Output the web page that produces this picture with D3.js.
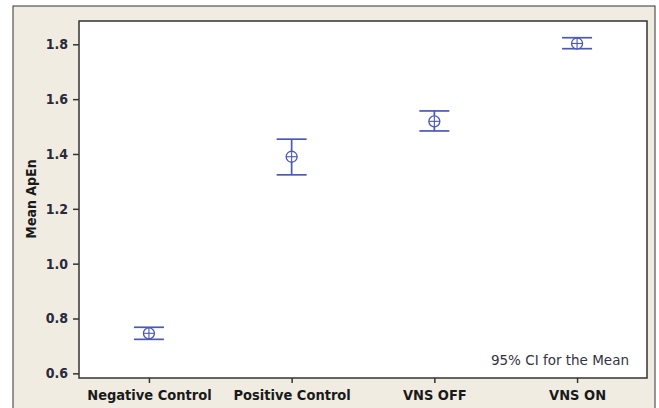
<!DOCTYPE html>
<html>
<head>
<meta charset="utf-8">
<script src="https://cdn.jsdelivr.net/npm/d3@7/dist/d3.min.js"></script>
<style>
  html, body { margin: 0; padding: 0; background: #ffffff; }
  svg { display: block; }
</style>
</head>
<body>
<script>
const categories = ["Negative Control", "Positive Control", "VNS OFF", "VNS ON"];
const means = [0.746, 1.390, 1.519, 1.803];
const lowerCI = [0.724, 1.324, 1.484, 1.784];
const upperCI = [0.768, 1.454, 1.557, 1.824];
const yTicks = [0.6, 0.8, 1.0, 1.2, 1.4, 1.6, 1.8];
const yLabel = "Mean ApEn";
const noteText = "95% CI for the Mean";

const W = 659, H = 408;
const plot = { left: 79, top: 21, right: 647, bottom: 378 };
const blue = "#4a58b8";

const svg = d3.select("body").append("svg").attr("width", W).attr("height", H);

// outer frame
svg.append("rect").attr("x", 0).attr("y", 0).attr("width", W).attr("height", H).attr("fill", "#ffffff");
svg.append("rect").attr("x", 13).attr("y", 6).attr("width", 642).attr("height", H).attr("fill", "#f0ece2")
  .attr("stroke", "#333").attr("stroke-width", 1);

const y = d3.scaleLinear().domain([0.583, 1.885]).range([plot.bottom, plot.top]);
const x = d3.scalePoint().domain(categories).range([plot.left, plot.right]).padding(0.49);

// plot area
svg.append("rect").attr("x", plot.left).attr("y", plot.top)
  .attr("width", plot.right - plot.left).attr("height", plot.bottom - plot.top)
  .attr("fill", "#ffffff").attr("stroke", "#333").attr("stroke-width", 1.5);

const fontBold = "'DejaVu Sans Condensed', 'DejaVu Sans', sans-serif";
const fontReg = "'DejaVu Sans', sans-serif";

// y axis
const yAxis = d3.axisLeft(y).tickValues(yTicks).tickFormat(d3.format(".1f")).tickSize(6).tickPadding(5);
const gy = svg.append("g").attr("transform", `translate(${plot.left},0)`).call(yAxis);
gy.select(".domain").remove();
gy.selectAll(".tick line").attr("stroke", "#333").attr("stroke-width", 1.5);
gy.selectAll(".tick text").attr("fill", "#2a2a3a").style("font-family", fontBold)
  .style("font-size", "14px").style("font-weight", "bold");

// x axis
const xAxis = d3.axisBottom(x).tickSize(5).tickPadding(5);
const gx = svg.append("g").attr("transform", `translate(0,${plot.bottom})`).call(xAxis);
gx.select(".domain").remove();
gx.selectAll(".tick line").attr("stroke", "#333").attr("stroke-width", 1.5);
gx.selectAll(".tick text").attr("fill", "#1a1a1a").style("font-family", fontBold)
  .style("font-size", "14.5px").style("font-weight", "bold").attr("dy", "0.85em");

// y label
svg.append("text").attr("transform", `translate(36,199) rotate(-90)`)
  .attr("text-anchor", "middle").attr("fill", "#1a1a1a")
  .style("font-family", fontBold).style("font-size", "14px").style("font-weight", "bold")
  .text(yLabel);

// note
svg.append("text").attr("x", 629).attr("y", 365).attr("text-anchor", "end")
  .attr("fill", "#333344").style("font-family", fontReg).style("font-size", "13.5px")
  .text(noteText);

// error bars
const data = categories.map((c, i) => ({ c, m: means[i], lo: lowerCI[i], hi: upperCI[i] }));
const cap = 15, r = 5.5;
const g = svg.append("g").attr("stroke", blue).attr("fill", "none").attr("stroke-width", 1.7);
const item = g.selectAll("g.eb").data(data).join("g").attr("class", "eb");
item.append("line").attr("x1", d => x(d.c)).attr("x2", d => x(d.c)).attr("y1", d => y(d.lo)).attr("y2", d => y(d.hi));
item.append("line").attr("x1", d => x(d.c) - cap).attr("x2", d => x(d.c) + cap).attr("y1", d => y(d.hi)).attr("y2", d => y(d.hi));
item.append("line").attr("x1", d => x(d.c) - cap).attr("x2", d => x(d.c) + cap).attr("y1", d => y(d.lo)).attr("y2", d => y(d.lo));
item.append("circle").attr("cx", d => x(d.c)).attr("cy", d => y(d.m)).attr("r", r).attr("fill", "#ffffff").attr("stroke-width", 1.3);
item.append("line").attr("x1", d => x(d.c) - r).attr("x2", d => x(d.c) + r).attr("y1", d => y(d.m)).attr("y2", d => y(d.m)).attr("stroke-width", 1.1);
item.append("line").attr("x1", d => x(d.c)).attr("x2", d => x(d.c)).attr("y1", d => y(d.m) - r).attr("y2", d => y(d.m) + r).attr("stroke-width", 1.1);
</script>
</body>
</html>
